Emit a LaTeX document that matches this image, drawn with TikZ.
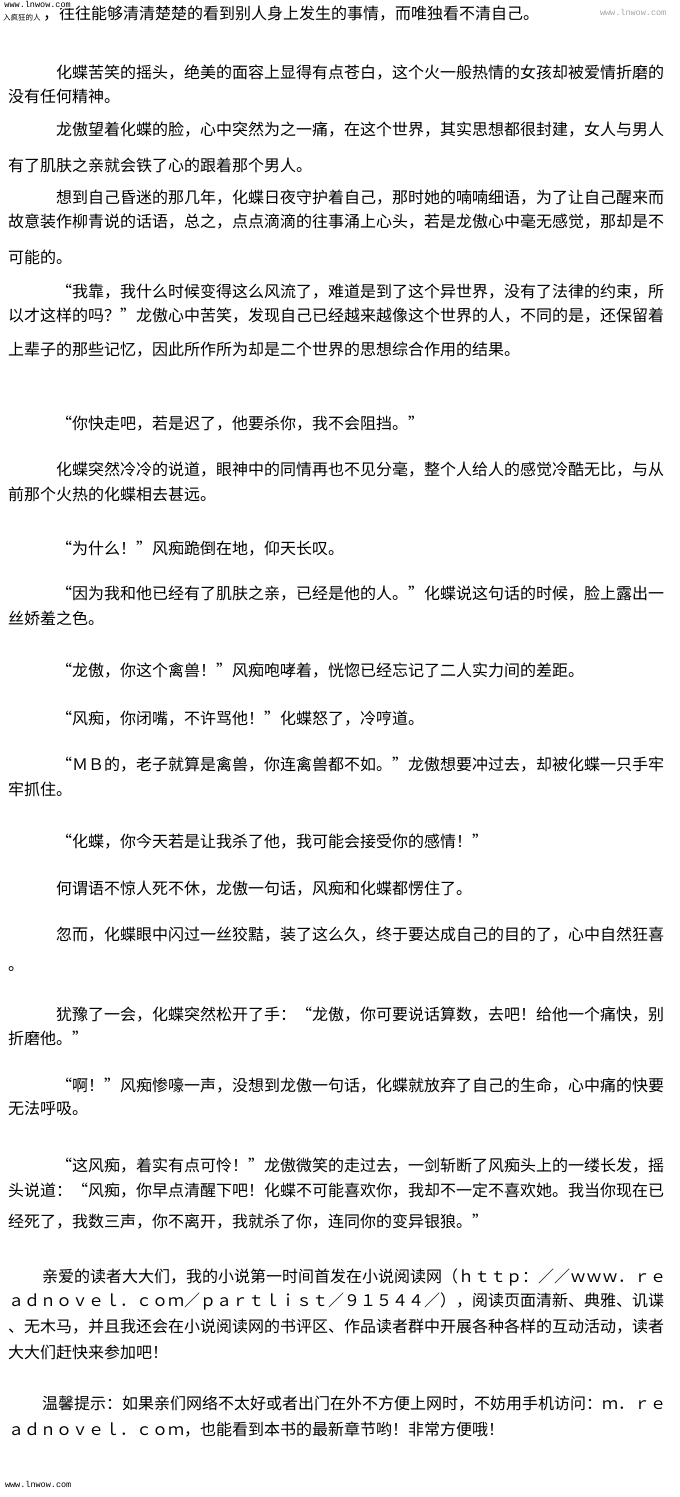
\documentclass[tikz,border=0pt]{standalone}
\usepackage{fontspec}
\setmainfont[RawFeature=+fwid]{Noto Sans CJK SC}
\newfontfamily\wm{Liberation Mono}
\begin{document}
\begin{tikzpicture}[x=1bp,y=-1bp,
  every node/.style={inner sep=0pt,outer sep=0pt},
  txt/.style={anchor=west,font=\fontsize{16bp}{16bp}\selectfont},
  wmk/.style={anchor=west,font=\wm\fontsize{8.5bp}{9bp}\selectfont}]
\useasboundingbox[fill=white] (0,0) rectangle (680,1497);
\node[anchor=west,font=\fontsize{7.5bp}{7.5bp}\selectfont] (l1a) at (3,18) {入疯狂的人};
\node[txt] (l1) at (43,14) {，往往能够清清楚楚的看到别人身上发生的事情，而唯独看不清自己。};
\node[wmk,fill=white,inner sep=0.5pt] (w1) at (4,4.5) {www.lnwow.com};
\node[wmk,text=black!35] (w2) at (600,12) {www.lnwow.com};
\node[txt] (l2) at (56,73) {化蝶苦笑的摇头，绝美的面容上显得有点苍白，这个火一般热情的女孩却被爱情折磨的};
\node[txt] (l3) at (8,96) {没有任何精神。};
\node[txt] (l4) at (56,130) {龙傲望着化蝶的脸，心中突然为之一痛，在这个世界，其实思想都很封建，女人与男人};
\node[txt] (l5) at (8,165) {有了肌肤之亲就会铁了心的跟着那个男人。};
\node[txt] (l6) at (56,198) {想到自己昏迷的那几年，化蝶日夜守护着自己，那时她的喃喃细语，为了让自己醒来而};
\node[txt] (l7) at (8,222) {故意装作柳青说的话语，总之，点点滴滴的往事涌上心头，若是龙傲心中毫无感觉，那却是不};
\node[txt] (l8) at (8,257) {可能的。};
\node[txt] (l9) at (56,292) {“我靠，我什么时候变得这么风流了，难道是到了这个异世界，没有了法律的约束，所};
\node[txt] (l10) at (8,316) {以才这样的吗？”龙傲心中苦笑，发现自己已经越来越像这个世界的人，不同的是，还保留着};
\node[txt] (l11) at (8,350) {上辈子的那些记忆，因此所作所为却是二个世界的思想综合作用的结果。};
\node[txt] (l12) at (56,424) {“你快走吧，若是迟了，他要杀你，我不会阻挡。”};
\node[txt] (l13) at (56,470) {化蝶突然冷冷的说道，眼神中的同情再也不见分毫，整个人给人的感觉冷酷无比，与从};
\node[txt] (l14) at (8,494) {前那个火热的化蝶相去甚远。};
\node[txt] (l15) at (56,549) {“为什么！”风痴跪倒在地，仰天长叹。};
\node[txt] (l16) at (56,594) {“因为我和他已经有了肌肤之亲，已经是他的人。”化蝶说这句话的时候，脸上露出一};
\node[txt] (l17) at (8,618) {丝娇羞之色。};
\node[txt] (l18) at (56,671) {“龙傲，你这个禽兽！”风痴咆哮着，恍惚已经忘记了二人实力间的差距。};
\node[txt] (l19) at (56,719) {“风痴，你闭嘴，不许骂他！”化蝶怒了，冷哼道。};
\node[txt] (l20) at (56,765) {“ＭＢ的，老子就算是禽兽，你连禽兽都不如。”龙傲想要冲过去，却被化蝶一只手牢};
\node[txt] (l21) at (8,789) {牢抓住。};
\node[txt] (l22) at (56,842) {“化蝶，你今天若是让我杀了他，我可能会接受你的感情！”};
\node[txt] (l23) at (56,889) {何谓语不惊人死不休，龙傲一句话，风痴和化蝶都愣住了。};
\node[txt] (l24) at (56,935) {忽而，化蝶眼中闪过一丝狡黠，装了这么久，终于要达成自己的目的了，心中自然狂喜};
\node[txt] (l25) at (8,969) {。};
\node[txt] (l26) at (56,1015) {犹豫了一会，化蝶突然松开了手：“龙傲，你可要说话算数，去吧！给他一个痛快，别};
\node[txt] (l27) at (8,1038) {折磨他。”};
\node[txt] (l28) at (56,1086) {“啊！”风痴惨嚎一声，没想到龙傲一句话，化蝶就放弃了自己的生命，心中痛的快要};
\node[txt] (l29) at (8,1108) {无法呼吸。};
\node[txt] (l30) at (56,1166) {“这风痴，着实有点可怜！”龙傲微笑的走过去，一剑斩断了风痴头上的一缕长发，摇};
\node[txt] (l31) at (8,1191) {头说道：“风痴，你早点清醒下吧！化蝶不可能喜欢你，我却不一定不喜欢她。我当你现在已};
\node[txt] (l32) at (8,1222) {经死了，我数三声，你不离开，我就杀了你，连同你的变异银狼。”};
\node[txt] (l33) at (42,1277) {亲爱的读者大大们，我的小说第一时间首发在小说阅读网（ｈｔｔｐ：／／ｗｗｗ．ｒｅ};
\node[txt] (l34) at (8,1301) {ａｄｎｏｖｅｌ．ｃｏｍ／ｐａｒｔｌｉｓｔ／９１５４４／），阅读页面清新、典雅、讥谍};
\node[txt] (l35) at (8,1327) {、无木马，并且我还会在小说阅读网的书评区、作品读者群中开展各种各样的互动活动，读者};
\node[txt] (l36) at (8,1352) {大大们赶快来参加吧！};
\node[txt] (l37) at (42,1404) {温馨提示：如果亲们网络不太好或者出门在外不方便上网时，不妨用手机访问：ｍ．ｒｅ};
\node[txt] (l38) at (8,1430) {ａｄｎｏｖｅｌ．ｃｏｍ，也能看到本书的最新章节哟！非常方便哦！};
\node[wmk] (w3) at (5,1484) {www.lnwow.com};
\end{tikzpicture}
\end{document}
